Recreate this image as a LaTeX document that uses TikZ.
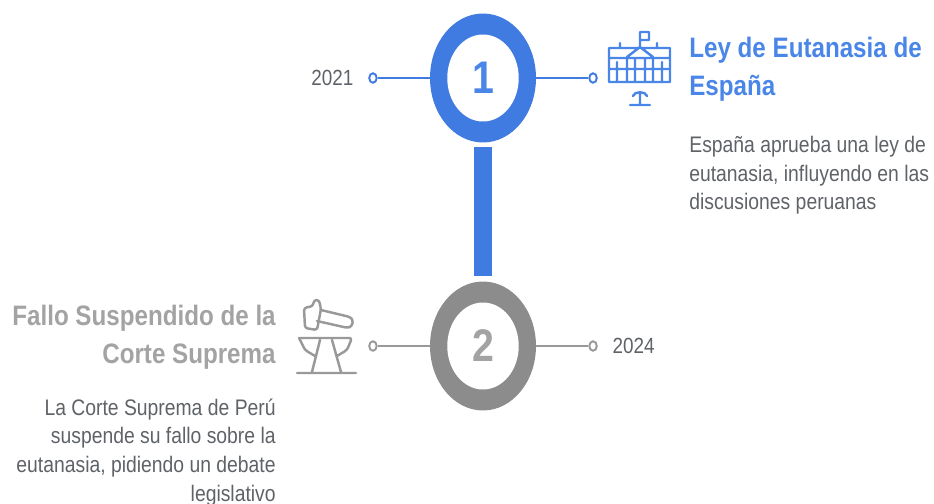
\documentclass[tikz,border=0pt]{standalone}
\usepackage{fontspec}
\setmainfont{Liberation Sans}[FakeStretch=0.86]
\usetikzlibrary{positioning,shapes.geometric}
\definecolor{ringblue}{HTML}{3F7BE0}
\definecolor{textblue}{HTML}{4A86E8}
\definecolor{ringgray}{HTML}{8C8C8C}
\definecolor{linegray}{HTML}{999999}
\definecolor{textgray}{HTML}{A3A3A3}
\definecolor{bodygray}{HTML}{5F6368}
\begin{document}
\begin{tikzpicture}[
          x=0.02cm,y=-0.02cm,
          node distance=1.04cm and 1.04cm,
          outer/.style={ellipse,inner sep=0,minimum width=2.12cm,minimum height=2.58cm},
          inner/.style={ellipse,fill=white,inner sep=0,minimum width=1.43cm,minimum height=1.74cm,font=\fontsize{26}{26}\selectfont\bfseries},
          dot/.style={draw,ellipse,fill=white,line width=1.1pt,inner sep=0,minimum width=.15cm,minimum height=.19cm},
          year/.style={inner sep=0,text=bodygray,font=\fontsize{12.5}{15}\selectfont},
          title/.style={inner sep=0,font=\fontsize{16}{21.6}\selectfont\bfseries},
          body/.style={inner sep=0,text=bodygray,font=\fontsize{12.8}{16.3}\selectfont},
          icon/.style={line width=1.4pt,line join=round,line cap=round}
            ]
            \useasboundingbox (0,0) rectangle (934,504);
            % rings
            \node[outer,fill=ringblue] (r1) at (483,78) {};
            \node[inner,text=textblue] (n1) at (r1.center) {1};
            \node[outer,fill=ringgray] (r2) at (483,346) {};
            \node[inner,text=textgray] (n2) at (r2.center) {2};
            \path (r1.south) edge[ringblue,line width=.36cm,shorten <=4*0.02cm,shorten >=5*0.02cm] (r2.north);
            % side dots
            \node[dot,draw=ringblue,left=of r1] (d1) {};
            \node[dot,draw=ringblue,right=of r1] (d2) {};
            \node[dot,draw=linegray,left=of r2] (d3) {};
            \node[dot,draw=linegray,right=of r2] (d4) {};
            \path (d1) edge[ringblue,line width=1.3pt] (r1)
            (d2) edge[ringblue,line width=1.3pt] (r1)
            (d3) edge[linegray,line width=1.3pt] (r2)
            (d4) edge[linegray,line width=1.3pt] (r2);
            \node[year,left=.29cm of d1] (y1) {2021};
            \node[year,right=.29cm of d4] (y2) {2024};
            % texts
            \node[title,text=textblue,anchor=north west,align=left] (t1) at (689,37) {Ley de Eutanasia de\\España};
            \node[body,below=.68cm of t1.south west,anchor=north west,align=left] (b1) {España aprueba una ley de\\eutanasia, influyendo en las\\discusiones peruanas};
            \node[title,text=textgray,anchor=north east,align=right] (t2) at (276,305) {Fallo Suspendido de la\\Corte Suprema};
            \node[body,below=.57cm of t2.south east,anchor=north east,align=right] (b2) {La Corte Suprema de Perú\\suspende su fallo sobre la\\eutanasia, pidiendo un debate\\legislativo};
            % building
            \draw[icon,textblue] (609,48) rectangle (670,82)
            (609,58) -- (627,58) (653,58) -- (670,58) (609,69) -- (670,69)
            (627,57) -- (640,47) -- (653,57) (627,58) -- (653,58)
            (640,47) -- (640,32) -- (649,32) -- (649,40) -- (640,40)
            (620,43) -- (620,48) (657,43) -- (657,48)
            (617,62) -- (617,82) (627,58) -- (627,82) (635,58) -- (635,82)
            (645,58) -- (645,82) (653,58) -- (653,82) (662,62) -- (662,82)
            (630,105) -- (650,105) (640,92) -- (640,105)
            (633,96) .. controls (634,91) and (646,91) .. (647,96);
            % hammer and anvil
            \draw[icon,linegray,rounded corners=1.5pt] (304,308) -- (313,306) -- (314,300) -- (319,300) -- (321,309) -- (317,330) -- (305,328) -- cycle
            (321,310) -- (350,317) -- (353,320) -- (352,326) -- (348,328) -- (317,321)
            (299,338) -- (352,338) -- (347,350) -- (337,356)
            (299,338) -- (305,350) -- (315,356)
            (320,340) -- (312,372) (332,340) -- (341,372)
            (297,373) -- (356,373);
            \end{tikzpicture}
\end{document}
